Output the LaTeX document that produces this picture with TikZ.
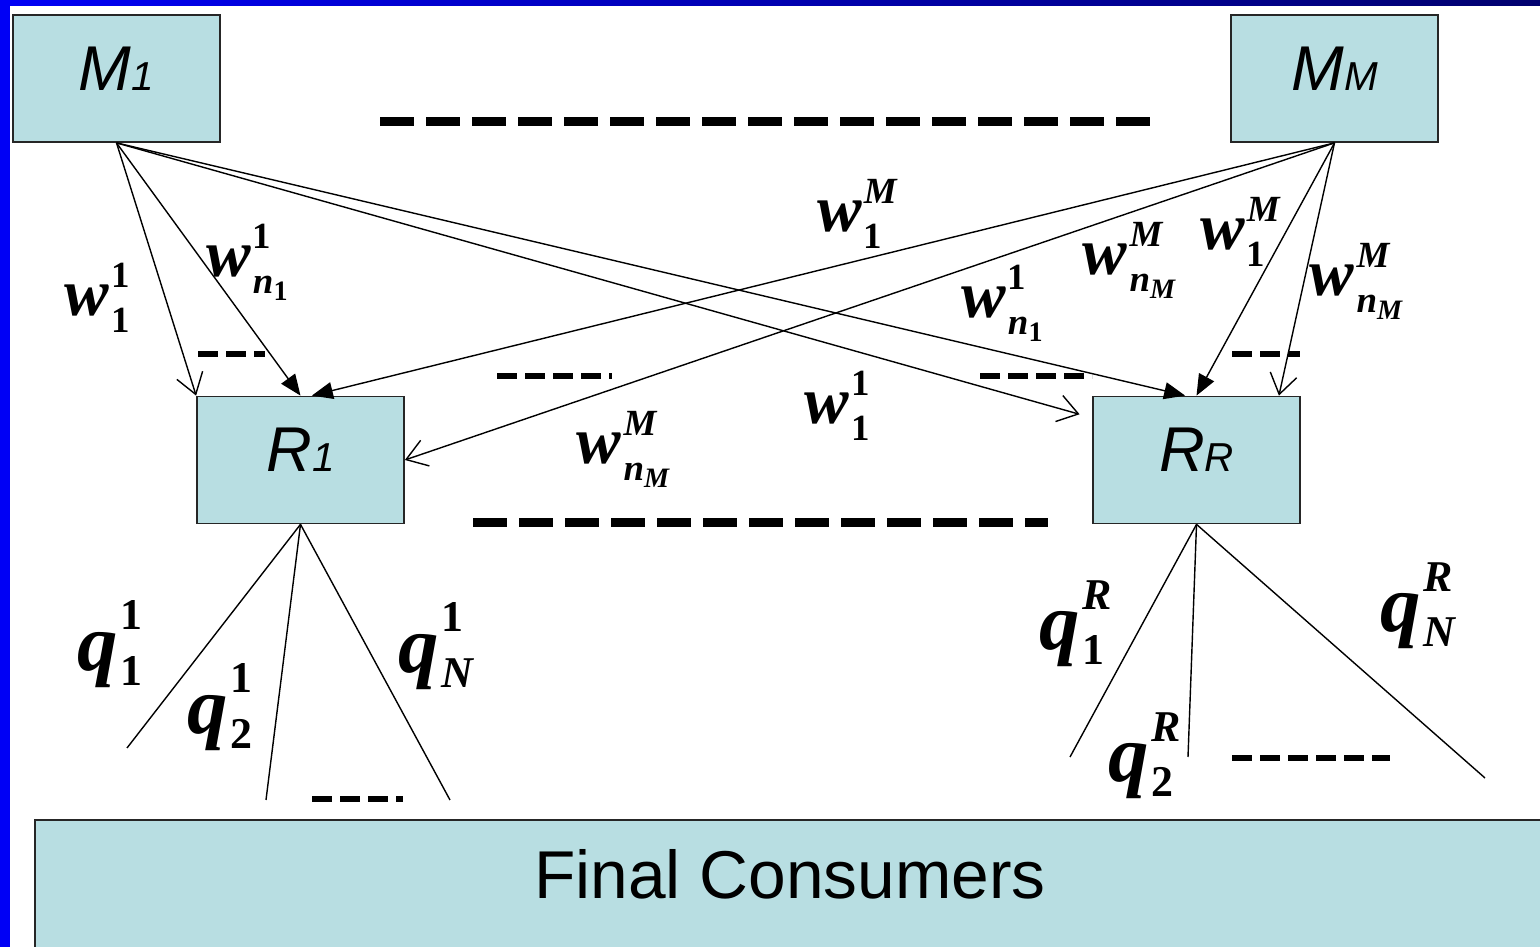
\documentclass[tikz,border=0pt]{standalone}
\usepackage{fontspec}
\setmainfont{Liberation Serif}
\setsansfont{Liberation Sans}
\usetikzlibrary{arrows.meta}
\definecolor{boxfill}{RGB}{184,222,226}
\definecolor{edgeblue}{RGB}{0,0,245}
\definecolor{navyblue}{RGB}{0,0,110}
\newcommand{\boxsub}[1]{{\fontsize{23}{24}\selectfont #1}}
% price / quantity symbols with stacked indices
\newcommand{\wlab}[2]{w\kern0.03em{\fontsize{21}{21}\selectfont\ooalign{\raisebox{16pt}{#1}\cr\raisebox{-9.6pt}{#2}\cr}}}
\newcommand{\qlab}[2]{q\kern0.03em{\fontsize{25}{25}\selectfont\ooalign{\raisebox{23pt}{#1}\cr\raisebox{-8.5pt}{#2}\cr}}}
\newcommand{\nsub}[1]{n\raisebox{-4pt}{\fontsize{16}{16}\selectfont #1}}
\newcommand{\nm}[1]{{\upshape #1}}

\begin{document}
\begin{tikzpicture}[
        box/.style={rectangle, draw=black!85, fill=boxfill, line width=1pt, minimum width=4.14cm, minimum height=2.54cm, inner sep=0pt, font=\sffamily\itshape\fontsize{36}{40}\selectfont},
        consumer/.style={rectangle, draw=black!85, fill=boxfill, line width=1pt, minimum width=30.2cm, minimum height=2.6cm, font=\sffamily\fontsize{38.5}{44}\selectfont},
        lbl/.style={inner sep=0pt, font=\bfseries\itshape\fontsize{38}{40}\selectfont},
        qlbl/.style={inner sep=0pt, font=\bfseries\itshape\fontsize{46}{48}\selectfont},
        fillarr/.style={-{Triangle[length=0.42cm,width=0.34cm]}, line width=0.8pt},
        openarr/.style={-{Straight Barb[length=0.4cm,width=0.54cm]}, line width=0.8pt},
        flow/.style={line width=0.8pt},
        bigdash/.style={line width=0.18cm, dash pattern=on 0.68cm off 0.24cm},
        smalldash/.style={line width=0.13cm, dash pattern=on 0.4cm off 0.16cm}
    ]
        \useasboundingbox (0,0) rectangle (30.8,18.94);
        \fill[white] (0,0) rectangle (30.8,18.94);

        % Slide frame
        \shade[left color=edgeblue, right color=navyblue] (0,18.82) rectangle (30.8,18.94);
        \fill[edgeblue] (0,0) rectangle (0.2,18.94);

        % Manufacturers
        \node[box] (m1) at (2.33,17.37) {\raisebox{0.38cm}{M\boxsub{1}}};
        \node[box] (mm) at (26.69,17.37) {\raisebox{0.38cm}{M\boxsub{M}}};

        % Retailers
        \node[box] (r1) at (6.01,9.74) {\raisebox{0.40cm}{R\boxsub{1}}};
        \node[box] (rr) at (23.93,9.74) {\raisebox{0.40cm}{R\boxsub{R}}};

        % Consumers
        \node[consumer] (fc) at (15.8,1.24) {\raisebox{0.46cm}{Final Consumers}};

        % Wholesale flows from M1
        \draw[openarr] (m1.south) -- (r1.north west);
        \draw[fillarr] (m1.south) -- (r1.north);
        \draw[openarr, shorten >=0.26cm] (m1.south) -- (rr.158);
        \draw[fillarr] (m1.south) -- (rr.100);

        % Wholesale flows from MM
        \draw[fillarr] (mm.south) -- (r1.80);
        \draw[openarr] (mm.south) -- (r1.east);
        \draw[fillarr] (mm.south) -- (rr.north);
        \draw[openarr] (mm.south) -- (rr.38);

        % Prices
        \node[lbl] (w11a) at (1.94,12.98) {\wlab{\nm{1}}{\nm{1}}};
        \node[lbl] (wn1a) at (4.94,13.70) {\wlab{\nm{1}}{\nsub{\nm{1}}}};
        \node[lbl] (w1ma) at (17.14,14.66) {\wlab{M}{\nm{1}}};
        \node[lbl] (wn1b) at (20.04,12.88) {\wlab{\nm{1}}{\nsub{\nm{1}}}};
        \node[lbl] (wnma) at (22.58,13.74) {\wlab{M}{\nsub{M}}};
        \node[lbl] (w1mb) at (24.80,14.30) {\wlab{M}{\nm{1}}};
        \node[lbl] (wnmb) at (27.12,13.32) {\wlab{M}{\nsub{M}}};
        \node[lbl] (w11b) at (16.74,10.82) {\wlab{\nm{1}}{\nm{1}}};
        \node[lbl] (wnmc) at (12.46,9.96) {\wlab{M}{\nsub{M}}};

        % Retail flows
        \coordinate (e11) at (2.54,3.98);
        \coordinate (e21) at (5.32,2.94);
        \coordinate (en1) at (9.00,2.94);
        \coordinate (e1r) at (21.40,3.80);
        \coordinate (e2r) at (23.76,3.80);
        \coordinate (enr) at (29.70,3.38);
        \draw[flow] (r1.south) -- (e11);
        \draw[flow] (r1.south) -- (e21);
        \draw[flow] (r1.south) -- (en1);
        \draw[flow] (rr.south) -- (e1r);
        \draw[flow] (rr.south) -- (e2r);
        \draw[flow] (rr.south) -- (enr);

        % Quantities
        \node[qlbl] (q11) at (2.20,6.06) {\qlab{\nm{1}}{\nm{1}}};
        \node[qlbl] (q21) at (4.40,4.80) {\qlab{\nm{1}}{\nm{2}}};
        \node[qlbl] (qn1) at (8.72,6.02) {\qlab{\nm{1}}{N}};
        \node[qlbl] (q1r) at (21.52,6.46) {\qlab{R}{\nm{1}}};
        \node[qlbl] (q2r) at (22.90,3.82) {\qlab{R}{\nm{2}}};
        \node[qlbl] (qnr) at (28.36,6.82) {\qlab{R}{N}};

        % Ellipsis dashes
        \draw[bigdash] (7.6,16.5) -- (23.0,16.5);
        \draw[bigdash] (9.46,8.48) -- (20.96,8.48);
        \draw[smalldash] (3.96,11.86) -- (5.30,11.86);
        \draw[smalldash] (9.94,11.42) -- (12.24,11.42);
        \draw[smalldash] (19.60,11.42) -- (21.84,11.42);
        \draw[smalldash] (24.64,11.86) -- (26.00,11.86);
        \draw[smalldash] (6.24,2.96) -- (8.06,2.96);
        \draw[smalldash] (24.64,3.78) -- (27.80,3.78);
    \end{tikzpicture}
\end{document}
